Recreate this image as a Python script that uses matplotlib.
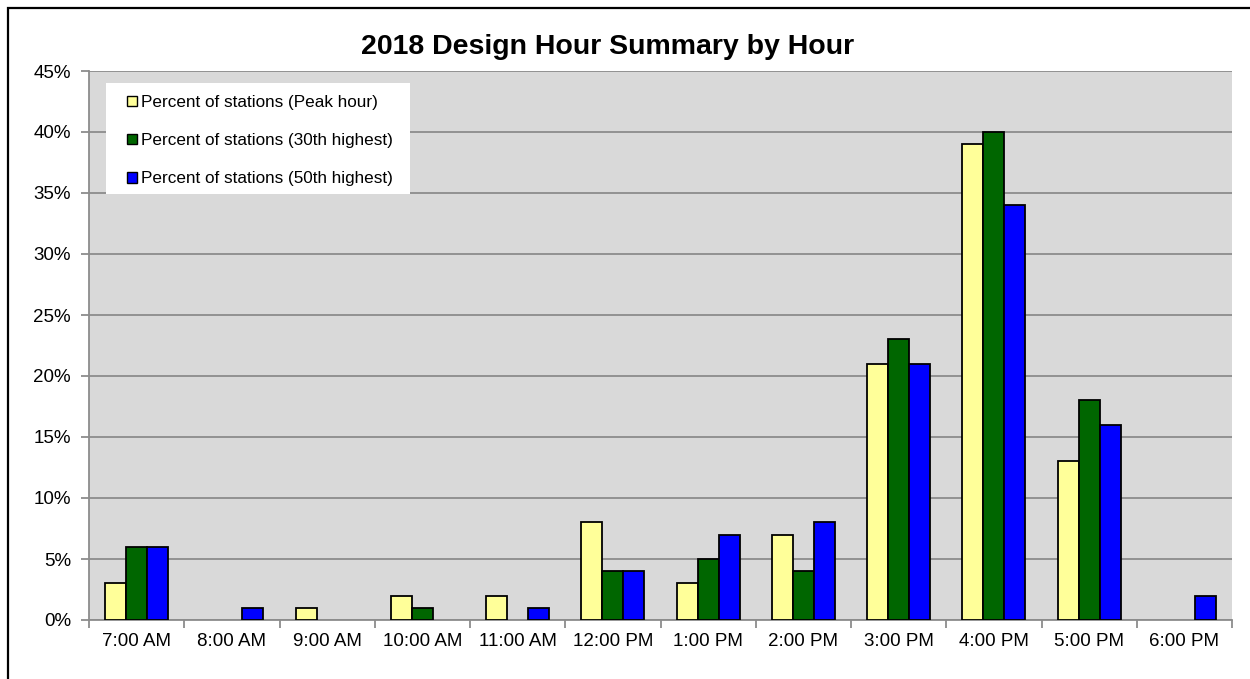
import numpy as np
import matplotlib
matplotlib.use("Agg")
import matplotlib.pyplot as plt
from matplotlib.patches import Rectangle
from matplotlib.ticker import FixedLocator, FuncFormatter

plt.rcParams['font.family'] = ['Liberation Sans', 'DejaVu Sans']

# data (percent of stations)
hours = ['7:00 AM', '8:00 AM', '9:00 AM', '10:00 AM', '11:00 AM', '12:00 PM',
         '1:00 PM', '2:00 PM', '3:00 PM', '4:00 PM', '5:00 PM', '6:00 PM']
peak_hour = [3, 0, 1, 2, 2, 8, 3, 7, 21, 39, 13, 0]
highest_30 = [6, 0, 0, 1, 0, 4, 5, 4, 23, 40, 18, 0]
highest_50 = [6, 1, 0, 0, 1, 4, 7, 8, 21, 34, 16, 2]
series_names = ['Percent of stations (Peak hour)',
                'Percent of stations (30th highest)',
                'Percent of stations (50th highest)']
colors = ['#FFFF99', '#006600', '#0000FF']

W, H = 1250, 679
fig = plt.figure(figsize=(W / 100, H / 100), dpi=100)
ax_l, ax_r, ax_t, ax_b = 89, 1232, 71, 620
ax = fig.add_axes([ax_l / W, 1 - ax_b / H, (ax_r - ax_l) / W, (ax_b - ax_t) / H])
ax.set_facecolor('#D9D9D9')

x = np.arange(len(hours))
w = 0.22
for i, (vals, col, name) in enumerate(zip([peak_hour, highest_30, highest_50], colors, series_names)):
    lws = [1.3 if v > 0 else 0 for v in vals]
    ax.bar(x + (i - 1) * w, vals, width=w, color=col, edgecolor='black',
           linewidth=lws, label=name, zorder=3)

ax.set_xlim(-0.5, len(hours) - 0.5)
ax.set_ylim(0, 45)
ax.set_yticks(np.arange(0, 46, 5))
ax.yaxis.set_major_formatter(FuncFormatter(lambda v, p: f'{int(v)}%'))
ax.yaxis.grid(True, color='#8C8C8C', linewidth=1.3, zorder=0)
ax.set_axisbelow(True)

# category boundaries carry the ticks, labels sit in the middle
ax.set_xticks(x)
ax.set_xticklabels(hours)
ax.xaxis.set_minor_locator(FixedLocator(np.arange(-0.5, len(hours), 1)))
ax.tick_params(axis='x', which='major', length=0, pad=9, labelsize=13.5)
ax.tick_params(axis='x', which='minor', length=6, width=1.3, color='#8C8C8C')
ax.tick_params(axis='y', length=6, width=1.3, color='#8C8C8C', pad=7, labelsize=13.5)

for s in ['top', 'right']:
    ax.spines[s].set_visible(False)
for s in ['left', 'bottom']:
    ax.spines[s].set_color('#8C8C8C')
    ax.spines[s].set_linewidth(1.3)

# white legend box, drawn by hand since it is wider than the legend content
pw, ph = ax_r - ax_l, ax_b - ax_t
ax.add_patch(Rectangle(((106 - ax_l) / pw, (ax_b - 194) / ph), (410 - 106) / pw, (194 - 83) / ph,
                       transform=ax.transAxes, facecolor='white', edgecolor='none', zorder=4))
leg = ax.legend(loc='upper left', bbox_to_anchor=((127 - ax_l) / pw, (ax_b - 95) / ph),
                borderaxespad=0, borderpad=0, frameon=False, fontsize=12.3,
                handlelength=0.6, handleheight=0.6, handletextpad=0.2,
                labelspacing=1.35)
leg.set_zorder(5)
for h in leg.legend_handles:
    h.set_linewidth(1.0)

fig.text(608 / W, 1 - 47 / H, '2018 Design Hour Summary by Hour',
         ha='center', va='center', fontsize=20.5, fontweight='bold')

# outer chart border (runs off the right and bottom edges)
fig.patches.append(Rectangle((8 / W, -0.1), 1.2, 1 - 8 / H + 0.1,
                             transform=fig.transFigure, fill=False,
                             edgecolor='black', linewidth=1.6))

fig.savefig('out.png', dpi=100)
